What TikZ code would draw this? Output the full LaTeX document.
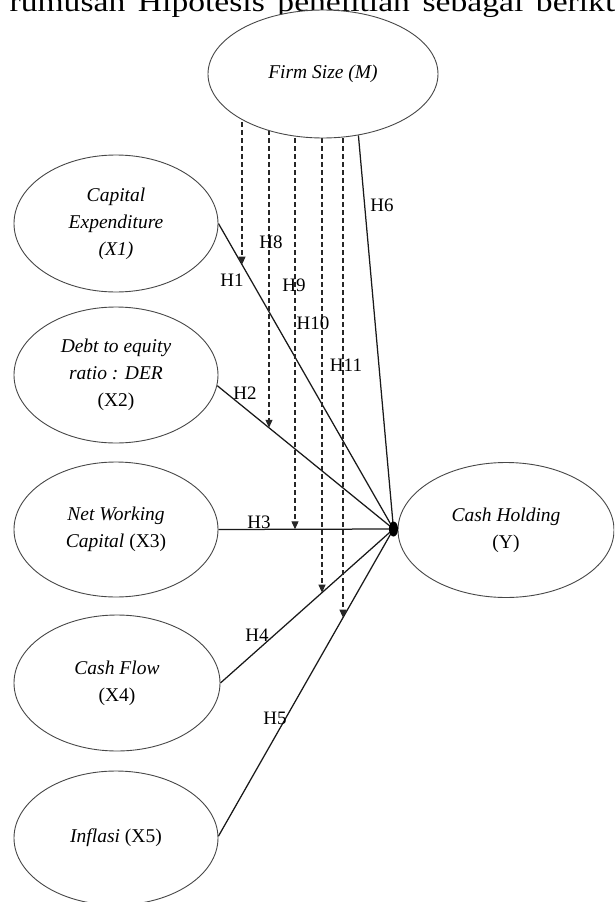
\documentclass[tikz,border=0pt]{standalone}
\usepackage{fontspec}
\setmainfont{Liberation Serif}
\usetikzlibrary{arrows.meta,shapes.geometric,calc,intersections}
\pgfdeclarelayer{bg}
\pgfsetlayers{bg,main}
\begin{document}
\begin{tikzpicture}[x=1pt,y=-1pt,
  var/.style={ellipse, draw=black!72, line width=0.9pt, fill=white, inner sep=0pt,
    align=center, font=\fontsize{19.5}{27}\selectfont},
  link/.style={draw=black!90, line width=1.25pt},
  modl/.style={draw=black!85, line width=1.1pt, dash pattern=on 5pt off 3pt,
    -{Triangle[length=8pt,width=7pt]}},
  hlab/.style={font=\fontsize{19}{19}\selectfont, inner sep=0pt}
]
\useasboundingbox (0,0) rectangle (614,902);
\clip (0,0) rectangle (614,902);

% top text (cut off by the page edge)
\node[anchor=base west, font=\fontsize{28}{28}\selectfont, xscale=1.2, inner sep=0pt]
  (title) at (-76,11) {\spaceskip=10.5pt maka rumusan Hipotesis penelitian sebagai berikut};

% variables
\node[var, minimum width=230, minimum height=128] (M) at (323,74)
  {\raisebox{-4pt}{\textit{Firm Size (M)}}};
\node[var, minimum width=204, minimum height=137] (X1) at (116,223.5)
  {\textit{Capital}\\\textit{Expenditure}\\\textit{(X1)}};
\node[var, minimum width=204, minimum height=136] (X2) at (116,375)
  {\textit{Debt to equity}\\\textit{ratio : DER}\\(X2)};
\node[var, minimum width=204, minimum height=135] (X3) at (116,529.5)
  {\textit{Net Working}\\\textit{Capital} (X3)};
\node[var, minimum width=206, minimum height=136] (X4) at (117,683)
  {\textit{Cash Flow}\\(X4)};
\node[var, minimum width=204, minimum height=134] (X5) at (116,838)
  {\textit{Inflasi} (X5)};
\node[var, minimum width=216, minimum height=135] (Y) at (506,530)
  {\textit{Cash Holding}\\(Y)};

\coordinate (hub) at (393.5,529);
\coordinate (m1) at (242,74);
\coordinate (m2) at (269,74);
\coordinate (m3) at (295,74);
\coordinate (m4) at (322,74);
\coordinate (m5) at (343,74);

\begin{pgfonlayer}{bg}
  \draw[link, name path=h1] (X1.east) -- (hub);
  \draw[link, name path=h2] (X2.-6) -- (hub);
  \draw[link, name path=h3] (X3.east) -- (hub);
  \draw[link, name path=h4] (X4.east) -- (hub);
  \draw[link, name path=h5] (X5.1) -- (hub);
  \draw[link] (M.-60) -- (hub);
  \path[name path=v1] (m1) -- ++(0,850);
  \path[name path=v2] (m2) -- ++(0,850);
  \path[name path=v3] (m3) -- ++(0,850);
  \path[name path=v4] (m4) -- ++(0,850);
  \path[name path=v5] (m5) -- ++(0,850);
  \path[name intersections={of=v1 and h1, by=t1}];
  \path[name intersections={of=v2 and h2, by=t2}];
  \path[name intersections={of=v3 and h3, by=t3}];
  \path[name intersections={of=v4 and h4, by=t4}];
  \path[name intersections={of=v5 and h5, by=t5}];
  \draw[modl] (m1) -- (t1);
  \draw[modl] (m2) -- (t2);
  \draw[modl] (m3) -- (t3);
  \draw[modl] (m4) -- (t4);
  \draw[modl] (m5) -- (t5);
\end{pgfonlayer}

\fill[black] (hub) ellipse [x radius=4.5, y radius=7.5];

% hypothesis labels
\node[hlab] (l1) at (232,280) {H1};
\node[hlab] (l2) at (245,393) {H2};
\node[hlab] (l3) at (259,522) {H3};
\node[hlab] (l4) at (257,635) {H4};
\node[hlab] (l5) at (275,718) {H5};
\node[hlab] (l6) at (382,205) {H6};
\node[hlab] (l8) at (271,242) {H8};
\node[hlab] (l9) at (294,285) {H9};
\node[hlab] (l10) at (313,323) {H10};
\node[hlab] (l11) at (346,365) {H11};
\end{tikzpicture}
\end{document}
